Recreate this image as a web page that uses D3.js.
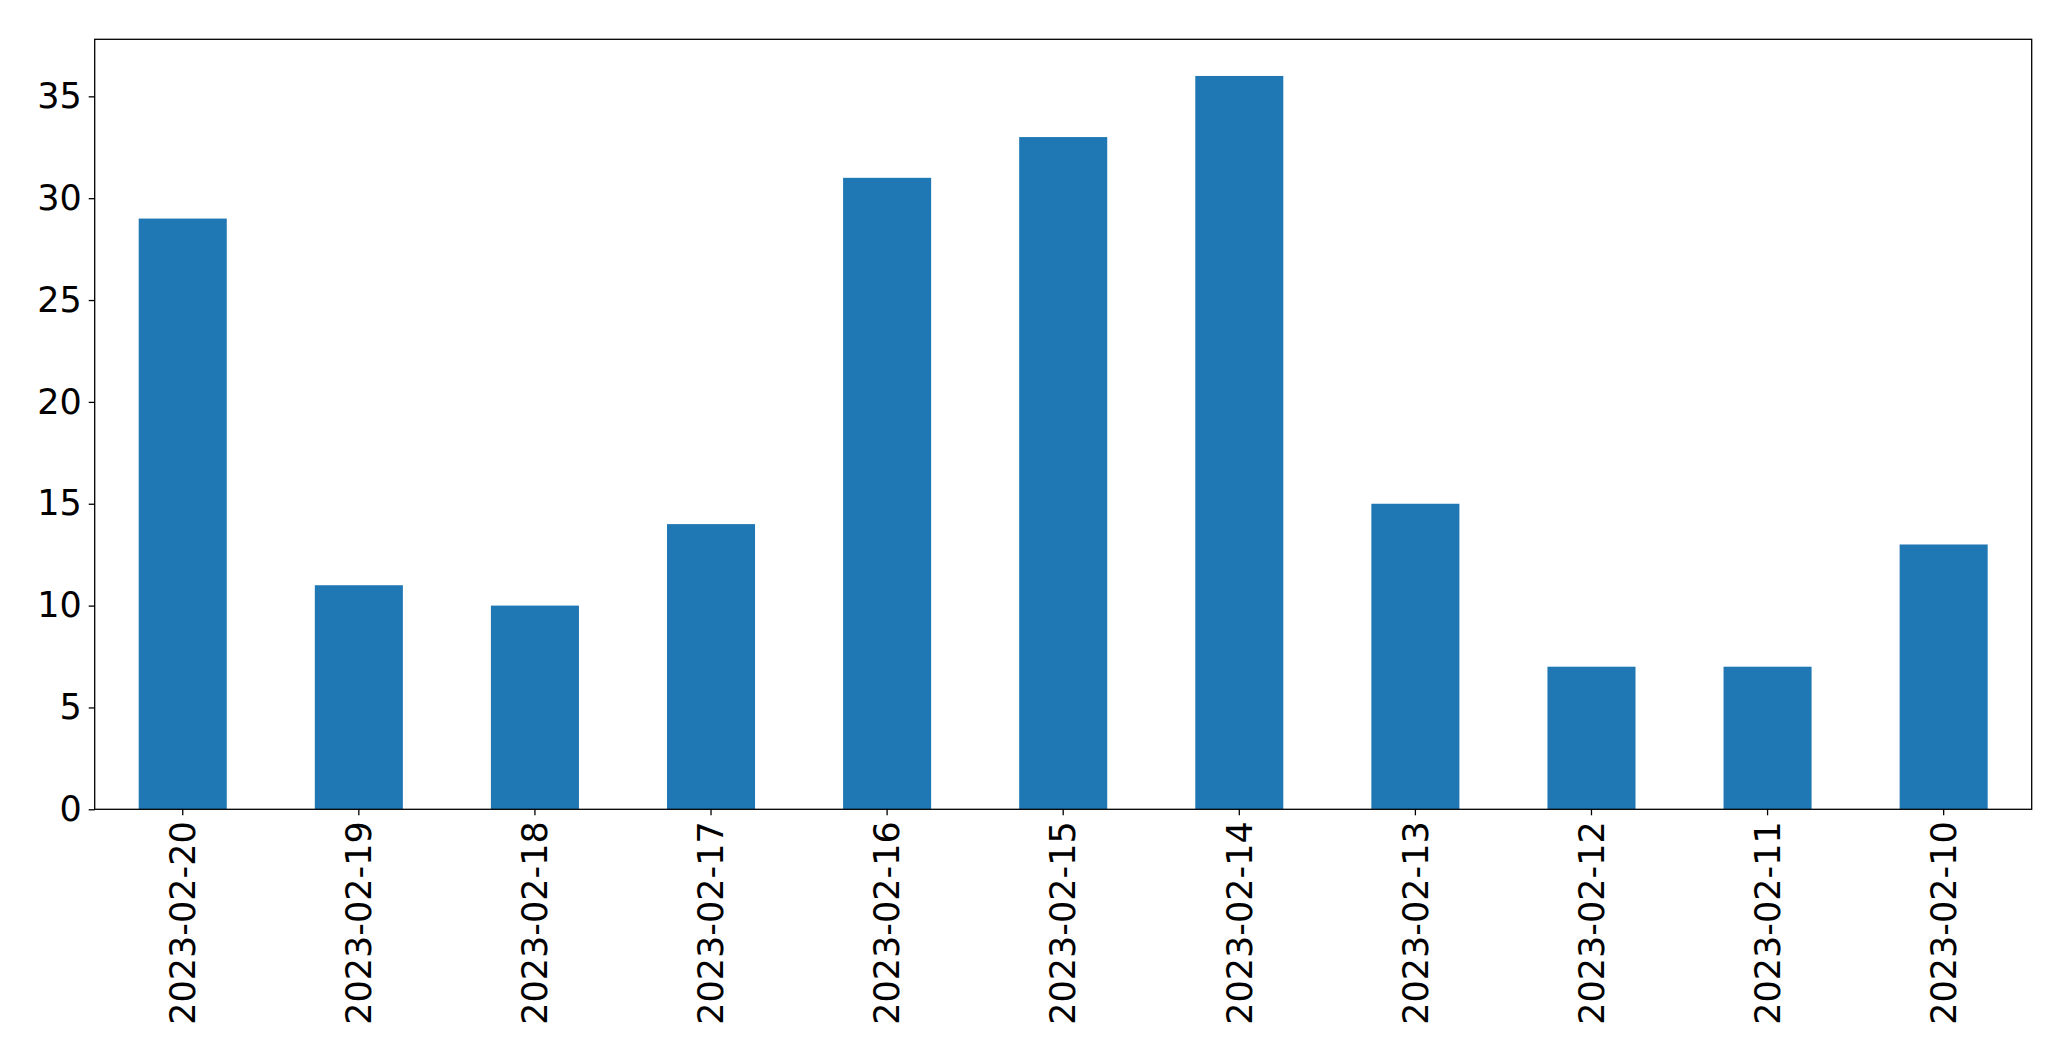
<!DOCTYPE html>
<html><head><meta charset="utf-8">
<script src="https://cdn.jsdelivr.net/npm/d3@7"></script>
<style>html,body{margin:0;padding:0;background:#fff;}svg{display:block;}</style>
</head><body>
<script>
const categories = ["2023-02-20","2023-02-19","2023-02-18","2023-02-17","2023-02-16","2023-02-15","2023-02-14","2023-02-13","2023-02-12","2023-02-11","2023-02-10"];
const values = [29, 11, 10, 14, 31, 33, 36, 15, 7, 7, 13];
const yTicks = [0, 5, 10, 15, 20, 25, 30, 35];

const W = 2071, H = 1061;
const m = {left: 94.7, right: 2071 - 2031.7, top: 39.3, bottom: 1061 - 809.3};
const iw = W - m.left - m.right, ih = H - m.top - m.bottom;

const svg = d3.select("body").append("svg").attr("width", W).attr("height", H);
const g = svg.append("g").attr("transform", `translate(${m.left},${m.top})`);

const x = d3.scaleBand().domain(categories).range([0, iw]).paddingInner(0.5).paddingOuter(0.25);
const y = d3.scaleLinear().domain([0, d3.max(values) * 1.05]).range([ih, 0]);

g.selectAll("rect.bar").data(values).join("rect")
  .attr("class", "bar")
  .attr("x", (d, i) => x(categories[i]))
  .attr("width", x.bandwidth())
  .attr("y", d => y(d))
  .attr("height", d => ih - y(d))
  .attr("fill", "#1f77b4");

const font = "'DejaVu Sans', sans-serif";
const yAxis = g.append("g").call(d3.axisLeft(y).tickValues(yTicks).tickSize(6).tickPadding(7).tickFormat(d3.format("d")));
yAxis.select(".domain").remove();
yAxis.selectAll("text").attr("font-family", font).attr("font-size", 35).attr("fill", "#000");
yAxis.selectAll("line").attr("stroke", "#000").attr("stroke-width", 1.3);

const xAxis = g.append("g").attr("transform", `translate(0,${ih})`)
  .call(d3.axisBottom(x).tickSize(6).tickPadding(10));
xAxis.select(".domain").remove();
xAxis.selectAll("line").attr("stroke", "#000").attr("stroke-width", 1.3);
xAxis.selectAll("text")
  .attr("font-family", font).attr("font-size", 35).attr("fill", "#000")
  .attr("transform", "rotate(-90)")
  .attr("text-anchor", "end")
  .attr("x", -12).attr("y", 0).attr("dy", "0.35em");

g.append("rect").attr("x", 0).attr("y", 0).attr("width", iw).attr("height", ih)
  .attr("fill", "none").attr("stroke", "#000").attr("stroke-width", 1.3);
</script>
</body></html>
